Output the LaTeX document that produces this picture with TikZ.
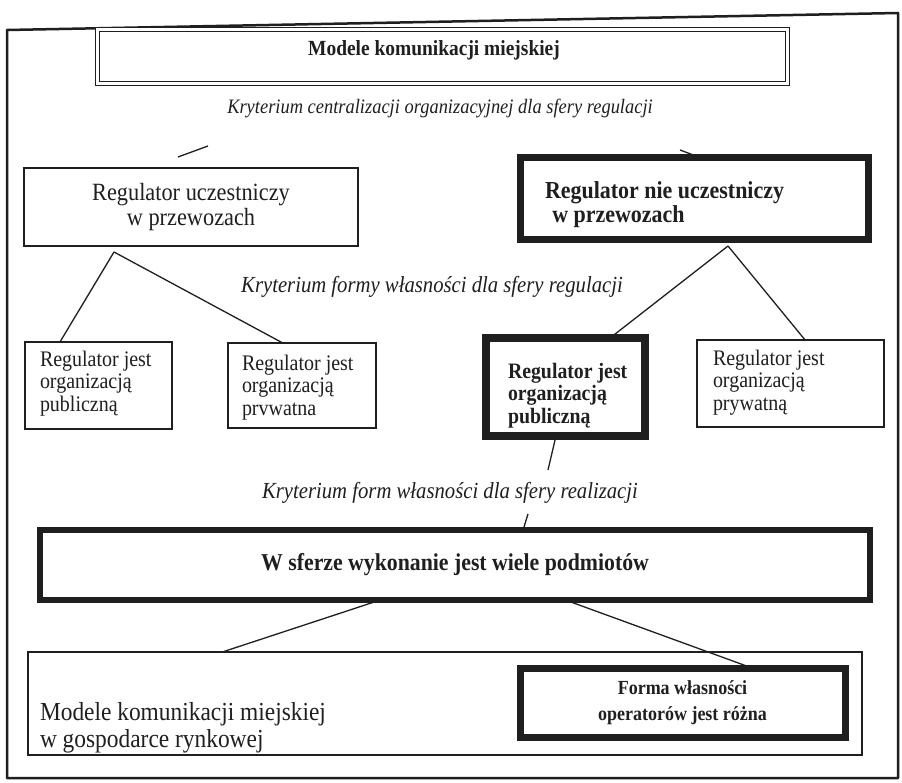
\documentclass[tikz,border=0pt]{standalone}
\usepackage{fontspec}
\setmainfont{Liberation Serif}[FakeStretch=0.9]
\newfontfamily\narrowserif[FakeStretch=0.9]{Liberation Serif}
\usetikzlibrary{calc}
\definecolor{ink}{gray}{0.12}
\begin{document}
\begin{tikzpicture}[x=1pt,y=-1pt,
  thinbox/.style={draw=ink,line width=1.2pt,inner sep=0pt,outer sep=0pt,anchor=north west,text=ink},
  thickbox/.style={draw=ink,line width=7pt,inner sep=0pt,outer sep=0pt,anchor=north west,text=ink},
  boxtext/.style={anchor=north west,align=left,inner sep=0pt,outer sep=0pt,text=ink},
  smalltext/.style={boxtext,font=\fontsize{22.2}{22.5}\selectfont},
  link/.style={draw=ink,line width=1.3pt},
  crit/.style={text=ink,font=\narrowserif\itshape\fontsize{23}{27}\selectfont,inner sep=0pt},
]
\useasboundingbox (0,0) rectangle (902,783);
\fill[white] (0,0) rectangle (902,783);
\draw[ink,line width=2.5pt,line join=round] (7,30) -- (898,13) -- (898,778) -- (7,778) -- cycle;

% title
\node[draw=ink,double=white,double distance=3pt,line width=1pt,inner sep=0pt,outer sep=0pt,
      anchor=north west,minimum width=690pt,minimum height=54pt,text height=16pt,text depth=19pt,
      font=\narrowserif\bfseries\fontsize{21.6}{26}\selectfont,text=ink] (title) at (97,30)
      {Modele komunikacji miejskiej\hspace*{16pt}};

\node[crit,font=\narrowserif\itshape\fontsize{20.5}{25}\selectfont] (k1) at (440,108)
      {Kryterium centralizacji organizacyjnej dla sfery regulacji};

\coordinate (s1a) at (178,157); \coordinate (s1b) at (208,146);
\coordinate (s2a) at (680,150); \coordinate (s2b) at (696,156);
\draw[link] (s1a) -- (s1b);
\draw[link] (s2a) -- (s2b);

% level 1
\node[thinbox,minimum width=334pt,minimum height=78pt,align=center,
      font=\fontsize{24.8}{25}\selectfont] (RU) at (24,168) {Regulator uczestniczy\\w przewozach};
\node[thickbox,minimum width=348pt,minimum height=82pt] (RN) at (520,158) {};
\node[boxtext,font=\bfseries\fontsize{24.4}{24.5}\selectfont] (RNt) at (545,181.5)
      {Regulator nie uczestniczy\\\hspace*{0.3em}w przewozach};

\node[crit] (k2) at (432,287) {Kryterium formy własności dla sfery regulacji};

% level 2
\node[thinbox,minimum width=147pt,minimum height=87pt] (B1) at (25,342) {};
\node[smalltext] (B1t) at (40,351) {Regulator jest\\organizacją\\publiczną};
\node[thinbox,minimum width=148pt,minimum height=85pt] (B2) at (228,343) {};
\node[smalltext] (B2t) at (242,355) {Regulator jest\\organizacją\\prvwatna};
\node[thickbox,line width=8pt,minimum width=159pt,minimum height=98pt] (B3) at (486,338) {};
\node[boxtext,font=\bfseries\fontsize{22}{22.5}\selectfont] (B3t) at (508,363) {Regulator jest\\organizacją\\publiczną};
\node[thinbox,minimum width=187pt,minimum height=87pt] (B4) at (697,340) {};
\node[smalltext] (B4t) at (713,350) {Regulator jest\\organizacją\\prywatną};

\coordinate (ra) at (114,252);
\draw[link] (ra) -- ($(B1.north west)!0.238!(B1.north east)$);
\draw[link] (ra) -- ($(B2.north west)!0.37!(B2.north east)$);
\coordinate (rb) at (728,246);
\draw[link] (rb) -- ($(B3.north west)!0.78!(B3.north east)$);
\draw[link] (rb) -- ($(B4.north west)!0.578!(B4.north east)$);

\coordinate (b3e) at (548,470);
\draw[link] ($(B3.south west)!0.44!(B3.south east)$) -- (b3e);

\node[crit] (k3) at (450,493) {Kryterium form własności dla sfery realizacji};

% execution sphere
\node[thickbox,line width=6pt,minimum width=830pt,minimum height=70pt,
      font=\narrowserif\bfseries\fontsize{24.2}{28}\selectfont] (W) at (40,530)
      {W sferze wykonanie jest wiele podmiotów};
\coordinate (w0) at (528,514);
\draw[link] (w0) -- ($(W.north west)!0.582!(W.north east)$);

% bottom
\node[thinbox,minimum width=834pt,minimum height=103pt] (BB) at (28,652) {};
\node[boxtext,font=\fontsize{26}{27}\selectfont] (BT) at (40,702)
      {Modele komunikacji miejskiej\\w gospodarce rynkowej};
\node[thickbox,minimum width=325pt,minimum height=69pt,align=center,
      font=\narrowserif\bfseries\fontsize{20}{26}\selectfont] (F) at (520,668)
      {Forma własności\\operatorów jest różna};

\draw[link] ($(W.south west)!0.41!(W.south east)$) -- ($(BB.north west)!0.233!(BB.north east)$);
\draw[link] ($(W.south west)!0.633!(W.south east)$) -- ($(F.north west)!0.714!(F.north east)$);
\end{tikzpicture}
\end{document}
